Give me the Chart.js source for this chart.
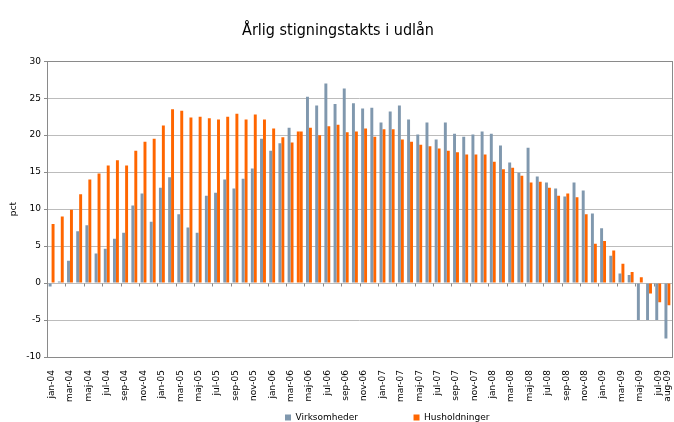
<!DOCTYPE html>
<html>
<head>
<meta charset="utf-8">
<script src="https://cdn.jsdelivr.net/npm/chart.js@4/dist/chart.umd.min.js"></script>
<style>
  html, body { margin: 0; padding: 0; background: #fff; }
  #wrap { width: 674px; height: 422px; }
</style>
</head>
<body>
<div id="wrap"><canvas id="chart" width="674" height="422"></canvas></div>
<script>
var months = ['jan', 'feb', 'mar', 'apr', 'maj', 'jun', 'jul', 'aug', 'sep', 'okt', 'nov', 'dec'];
var years = ['04', '05', '06', '07', '08', '09'];

var labels = [];
years.forEach(function (y) {
    months.forEach(function (m) { labels.push(m + '-' + y); });
});
labels = labels.slice(0, 68); // jan-04 .. aug-09

var virksomheder = [
    -0.45, 0.2, 3.0, 7.0, 7.8, 4.0, 4.65, 6.0, 6.8, 10.5, 12.1, 8.3,
    12.9, 14.3, 9.3, 7.5, 6.8, 11.8, 12.2, 14.0, 12.8, 14.1, 15.5, 19.5,
    17.9, 18.9, 21.0, 20.5, 25.2, 24.0, 27.0, 24.2, 26.3, 24.3, 23.6, 23.7,
    21.7, 23.2, 24.0, 22.1, 20.1, 21.7, 19.4, 21.7, 20.2, 19.8, 20.1, 20.5,
    20.2, 18.6, 16.3, 14.9, 18.3, 14.4, 13.6, 12.8, 11.7, 13.6, 12.5, 9.4,
    7.4, 3.7, 1.3, 1.1, -5.0, -5.0, -5.0, -7.5
];
var husholdninger = [
    8.0, 9.0, 9.9, 12.0, 14.0, 14.8, 15.9, 16.6, 15.9, 17.9, 19.1, 19.5,
    21.3, 23.5, 23.3, 22.4, 22.5, 22.3, 22.1, 22.5, 22.9, 22.1, 22.8, 22.1,
    20.9, 19.7, 19.0, 20.5, 21.0, 20.0, 21.2, 21.4, 20.4, 20.5, 20.9, 19.8,
    20.8, 20.8, 19.4, 19.1, 18.7, 18.5, 18.2, 17.9, 17.7, 17.4, 17.4, 17.4,
    16.4, 15.4, 15.6, 14.5, 13.6, 13.7, 12.9, 11.8, 12.1, 11.6, 9.3, 5.3,
    5.7, 4.4, 2.6, 1.5, 0.8, -1.4, -2.6, -3.0
];

var GREY = '#8098ae';
var ORANGE = '#ff6600';
var FONT = "'DejaVu Sans', Verdana, sans-serif";

// apr-06: the Virksomheder bar is drawn orange in the original
var virkColors = virksomheder.map(function (v, i) { return labels[i] === 'apr-06' ? ORANGE : GREY; });

// frame around the plot + small ticks along the zero line
var framePlugin = {
    id: 'frame',
    afterDatasetsDraw: function (chart) {
        var ctx = chart.ctx, a = chart.chartArea;
        var x = chart.scales.x, y = chart.scales.y;
        var y0 = Math.round(y.getPixelForValue(0)) + 0.5;
        var step = (x.right - x.left) / labels.length;
        ctx.save();
        ctx.strokeStyle = '#8a8a8a';
        ctx.lineWidth = 1;
        ctx.beginPath();
        for (var k = 2; k < labels.length; k += 2) {
            var px = Math.round(x.left + k * step) + 0.5;
            ctx.moveTo(px, y0);
            ctx.lineTo(px, y0 + 3);
        }
        ctx.stroke();
        ctx.strokeRect(Math.round(a.left) + 0.5, Math.round(a.top) + 0.5,
            Math.round(a.right - a.left), Math.round(a.bottom - a.top));
        ctx.restore();
    }
};

// move the legend to where the original has it
var legendShift = {
    id: 'legendShift',
    afterUpdate: function (chart) {
        var lg = chart.legend;
        if (!lg || !lg.legendHitBoxes.length) return;
        var dx = 285 - lg.legendHitBoxes[0].left;
        var dy = 409 - lg.top;
        lg.left += dx; lg.right += dx;
        lg.top += dy; lg.bottom += dy;
        lg.legendHitBoxes.forEach(function (h) { h.left += dx; h.top += dy; });
    }
};

var gap = '\u00a0'.repeat(18);

new Chart(document.getElementById('chart'), {
    type: 'bar',
    data: {
        labels: labels,
        datasets: [
            {
                label: 'Virksomheder',
                data: virksomheder,
                backgroundColor: virkColors,
                categoryPercentage: 0.64,
                barPercentage: 1.0
            },
            {
                label: 'Husholdninger',
                data: husholdninger,
                backgroundColor: ORANGE,
                categoryPercentage: 0.64,
                barPercentage: 1.0
            }
        ]
    },
    options: {
        responsive: false,
        animation: false,
        devicePixelRatio: 1,
        layout: { padding: { left: 4, right: 2, top: 0, bottom: -8 } },
        plugins: {
            title: {
                display: true,
                text: 'Årlig stigningstakts i udlån',
                color: '#000',
                font: { family: "'DejaVu Sans Condensed', 'DejaVu Sans', sans-serif", size: 16, weight: 'normal' },
                padding: { top: 21, bottom: 21 }
            },
            legend: {
                position: 'bottom',
                labels: {
                    color: '#000',
                    font: { family: FONT, size: 9 },
                    boxWidth: 6,
                    boxHeight: 6,
                    padding: 4,
                    generateLabels: function (chart) {
                        return [
                            { text: 'Virksomheder' + gap, fillStyle: GREY, strokeStyle: GREY, lineWidth: 0, datasetIndex: 0 },
                            { text: 'Husholdninger', fillStyle: ORANGE, strokeStyle: ORANGE, lineWidth: 0, datasetIndex: 1 }
                        ];
                    }
                }
            },
            tooltip: { enabled: false }
        },
        scales: {
            x: {
                grid: { display: false },
                border: { display: false },
                ticks: {
                    autoSkip: false,
                    minRotation: 90,
                    maxRotation: 90,
                    padding: 5,
                    color: '#000',
                    font: { family: FONT, size: 9 },
                    callback: function (val, i) {
                        return (i % 2 === 0 || i === labels.length - 1) ? labels[i] : '';
                    }
                },
                afterFit: function (scale) {
                    scale.height = 50;
                    scale.paddingLeft = 0;
                    scale.paddingRight = 0;
                }
            },
            y: {
                min: -10,
                max: 30,
                ticks: {
                    stepSize: 5,
                    padding: 3,
                    color: '#000',
                    font: { family: FONT, size: 9 }
                },
                grid: { color: '#bcbcbc', tickLength: 3, tickColor: '#8a8a8a' },
                border: { display: false },
                title: {
                    display: true,
                    text: 'pct',
                    color: '#000',
                    font: { family: FONT, size: 9 },
                    padding: { top: 4, bottom: 0 }
                },
                afterFit: function (scale) {
                    scale.width = 43;
                    scale.paddingTop = 0;
                    scale.paddingBottom = 0;
                }
            }
        }
    },
    plugins: [framePlugin, legendShift]
});
</script>
</body>
</html>
